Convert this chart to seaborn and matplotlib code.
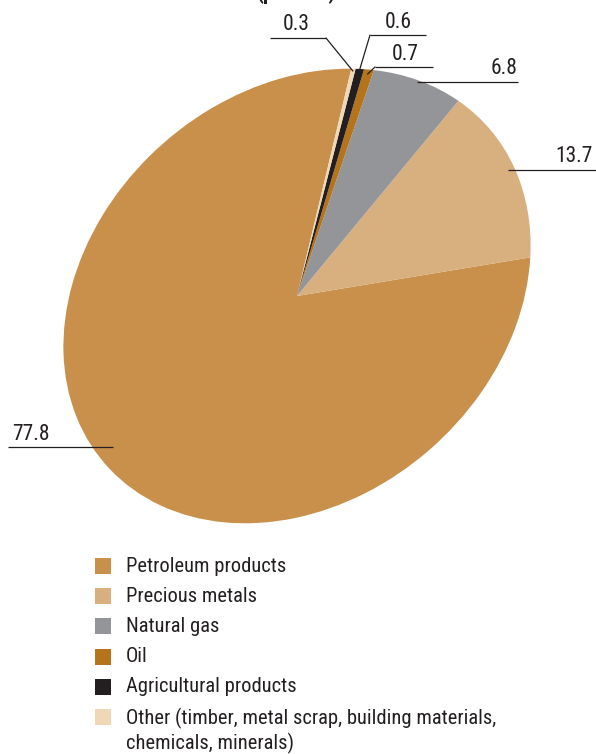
import numpy as np
import matplotlib
matplotlib.use("Agg")
import matplotlib.pyplot as plt
from matplotlib import font_manager as fm
from matplotlib.transforms import Affine2D
import seaborn as sns

# Shares of exports by commodity (percent)
categories = [
    "Petroleum products",
    "Precious metals",
    "Natural gas",
    "Oil",
    "Agricultural products",
    "Other (timber, metal scrap, building materials,\nchemicals, minerals)",
]
shares = [77.8, 13.7, 6.8, 0.7, 0.6, 0.3]
value_labels = ["77.8", "13.7", "6.8", "0.7", "0.6", "0.3"]
colors = ["#C8904B", "#D8AF7E", "#939598", "#B5731C", "#231F20", "#F0D7B6"]

sns.set_theme(style="white")

# Pick a narrow sans face if one is installed
installed = {(f.name, f.stretch) for f in fm.fontManager.ttflist}
names = {n for n, _ in installed}
family, stretch = "DejaVu Sans", "normal"
for fam in ["Liberation Sans Narrow", "Roboto Condensed", "Open Sans Condensed",
            "Noto Sans Condensed"]:
    if fam in names:
        family, stretch = fam, "normal"
        break
else:
    for fam in ["Noto Sans", "Open Sans", "Roboto", "DejaVu Sans"]:
        if any(n == fam and s in ("condensed", "semi-condensed", "extra-condensed")
               for n, s in installed):
            family, stretch = fam, "condensed"
            break
plt.rcParams["font.family"] = [family, "DejaVu Sans"]
plt.rcParams["font.stretch"] = stretch
ink = "#231F20"

W, H = 596, 754
fig = plt.figure(figsize=(W / 100, H / 100), dpi=100)
ax = fig.add_axes([0, 0, 1, 1])

palette = sns.color_palette(colors)
wedges, _ = ax.pie(shares, colors=palette, startangle=41.4, counterclock=True,
                   normalize=True, radius=1.0, center=(0, 0),
                   wedgeprops=dict(linewidth=0))

# Pixel-space canvas (y grows downward)
ax.set_aspect("auto")
ax.set_xlim(0, W)
ax.set_ylim(H, 0)
ax.axis("off")

# Tilted, flattened disc: scale the unit pie into an ellipse and rotate it
cx, cy = 297, 296
semi_a, semi_b, tilt = 255.0, 203.0, 41.5
disc = Affine2D().scale(semi_a, semi_b).rotate_deg(tilt).scale(1, -1).translate(cx, cy)
for w in wedges:
    w.set_transform(disc + ax.transData)


def on_disc(angle_deg, r):
    t = np.deg2rad(angle_deg)
    return disc.transform((r * np.cos(t), r * np.sin(t)))


# Leader-line layout: (anchor radius, elbow point or None, line x-range, line y, text x, align)
layout = {
    "77.8": (0.985, None, (8, None), 447, 12, "left"),
    "13.7": (0.97, None, (None, 596), 170, 593, "right"),
    "6.8": (0.985, None, (None, 518), 82, 518, "right"),
    "0.7": (0.98, (375, 67), (375, 433), 67, 392, "left"),
    "0.6": (0.99, (370, 35), (370, 426), 35, 385, "left"),
    "0.3": (0.99, (326, 38), (270, 326), 38, 283, "left"),
}

for w, lab in zip(wedges, value_labels):
    mid = 0.5 * (w.theta1 + w.theta2)
    r, elbow, (x0, x1), ly, tx, ha = layout[lab]
    px, py = on_disc(mid, r)
    if elbow is None:
        xs = [x0 if x0 is not None else px, x1 if x1 is not None else px]
        ax.plot(xs, [ly, ly], color=ink, lw=0.9, solid_capstyle="butt")
    else:
        ax.plot([x0, x1], [ly, ly], color=ink, lw=0.9, solid_capstyle="butt")
        ax.plot([elbow[0], px], [elbow[1], py], color=ink, lw=0.9)
    ax.text(tx, ly - 7.5, lab, ha=ha, va="baseline", fontsize=15.5, color=ink)

# Title (top of the panel)
ax.text(296, -1.5, "(percent)", ha="center", va="baseline", fontsize=15.5,
        fontweight="bold", color=ink)

# Legend with square keys
key_x, key_size = 95, 16
row0, row_step = 566, 30.2
for i, (name, col) in enumerate(zip(categories, palette)):
    yc = row0 + i * row_step
    ax.add_patch(plt.Rectangle((key_x, yc - key_size / 2), key_size, key_size,
                               facecolor=col, edgecolor="none"))
    ax.text(126, yc - 9.5, name, ha="left", va="top", fontsize=14.8,
            color=ink, linespacing=1.27)

fig.savefig("out.png", dpi=100)
